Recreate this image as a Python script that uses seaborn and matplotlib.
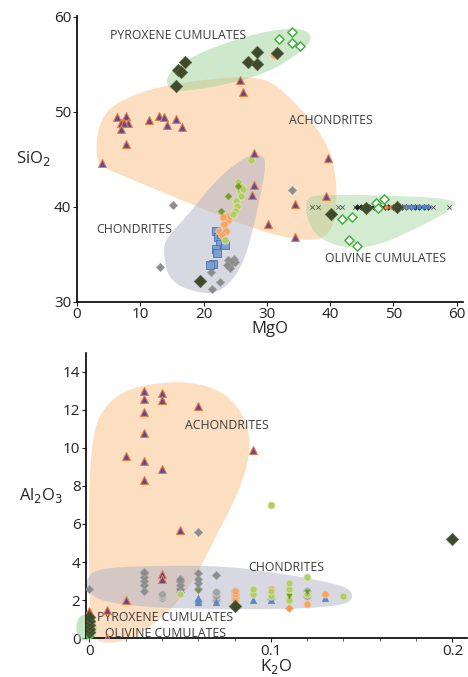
import numpy as np
import pandas as pd
import matplotlib
matplotlib.use('Agg')
import matplotlib.pyplot as plt
import seaborn as sns

# ---- top panel: MgO vs SiO2 ----
ach_mgo = [6.4, 7.7, 6.9, 8.0, 7.4, 6.9, 7.7, 11.3, 12.9, 13.8, 14.2, 15.6, 16.6, 4.0,
           25.8, 26.3, 28.0, 28.0, 27.6, 30.2, 34.5, 34.4, 39.7, 39.4]
ach_sio2 = [49.5, 49.6, 48.8, 48.8, 48.8, 48.2, 46.6, 49.1, 49.6, 49.5, 48.6, 49.3, 48.4, 44.6,
            53.4, 52.1, 45.7, 42.3, 41.3, 38.2, 40.3, 36.8, 45.1, 41.1]

dark_mgo = [15.7, 15.9, 16.4, 17.0, 27.0, 28.4, 28.4, 31.6, 40.1, 45.6, 19.4, 50.5]
dark_sio2 = [52.7, 54.4, 54.2, 55.3, 55.2, 56.3, 55.0, 56.2, 39.3, 39.9, 32.2, 40.0]

opn_mgo = [31.9, 34.0, 34.0, 35.3, 41.8, 43.5, 47.2, 48.5, 47.5, 42.9, 44.3]
opn_sio2 = [57.7, 58.4, 57.2, 56.9, 38.7, 38.9, 40.4, 40.8, 39.9, 36.5, 35.9]

gray_mgo = [15.1, 34.0, 13.1, 21.2, 22.6, 21.3, 23.9, 24.3, 24.8, 25.0, 24.2, 23.7, 24.5]
gray_sio2 = [40.2, 41.8, 33.7, 33.1, 32.1, 31.4, 34.4, 34.0, 34.5, 34.2, 33.6, 33.9, 34.3]

lime_mgo = [27.5, 25.4, 26.0, 25.7, 25.9, 25.1, 25.3, 24.9, 24.6, 23.4, 26.2]
lime_sio2 = [44.9, 42.6, 42.1, 41.7, 41.2, 40.6, 40.1, 39.6, 39.3, 36.5, 41.9]

olive_mgo = [23.9, 22.8, 25.5]
olive_sio2 = [41.1, 39.6, 42.2]

orng_mgo = [24.4, 23.8, 23.3, 22.5, 23.6, 24.0, 22.9, 23.1, 31.1, 31.6]
orng_sio2 = [39.3, 38.6, 38.2, 37.5, 37.5, 39.0, 37.0, 38.9, 56.0, 56.1]

blue_mgo = [22.0, 22.3, 22.6, 21.9, 23.4, 21.5, 21.0, 22.8, 22.1]
blue_sio2 = [37.5, 36.8, 36.1, 35.6, 36.0, 34.0, 33.9, 37.2, 35.2]

# olivine cumulate run along SiO2 ~ 40
run_mgo = [44.2, 44.8, 45.4, 46.2, 47.0, 47.8, 48.6, 49.2, 49.9, 50.6, 51.3, 52.0, 52.7,
           53.4, 54.1, 54.8, 55.4]
run_sio2 = [40.0, 40.0, 40.0, 40.0, 40.0, 40.0, 40.0, 40.0, 40.0, 40.0, 40.0, 40.0, 40.0,
            40.0, 40.0, 40.0, 40.0]
run_orng_mgo = [48.8, 49.6, 50.4, 51.2, 52.0, 52.8]
run_orng_sio2 = [40.0, 40.0, 40.0, 40.0, 40.0, 40.0]
run_blue_mgo = [51.6, 52.4, 53.2, 54.0, 54.8, 55.5]
run_blue_sio2 = [40.0, 40.0, 40.0, 40.0, 40.0, 40.0]

x_mgo = [37.2, 38.1, 41.3, 41.8, 44.0, 44.5, 45.0, 46.5, 47.5, 49.0, 50.0, 51.0, 52.5, 53.5, 56.3, 58.8]
x_sio2 = [40.0, 40.0, 40.0, 40.0, 40.0, 40.0, 40.0, 40.0, 40.0, 40.0, 40.0, 40.0, 40.0, 40.0, 40.0, 40.0]

# field outlines (MgO, SiO2)
top_ach = [(3.0, 44.6), (3.2, 48.4), (5.5, 50.8), (12.2, 52.6), (21.2, 53.5), (27.1, 53.7), (30.6, 53.3),
           (34.8, 50.8), (39.2, 47.2), (41.0, 43.5), (41.0, 39.0), (39.6, 36.9), (36.6, 36.4),
           (31.3, 37.0), (23.9, 38.7), (13.3, 41.6), (5.0, 43.9)]
top_chon = [(13.6, 35.3), (14.5, 32.2), (19.1, 30.9), (22.8, 31.0), (26.2, 33.7), (28.3, 38.9),
            (29.9, 44.3), (29.4, 45.5), (27.1, 45.5), (22.6, 43.3), (17.3, 39.0), (14.1, 36.7)]
top_pyx = [(14.0, 52.9), (15.8, 51.9), (29.4, 53.7), (36.9, 57.0), (36.9, 58.4), (34.0, 58.9),
           (27.1, 58.1), (18.5, 56.0), (14.6, 54.2)]
top_oliv = [(36.2, 40.8), (37.7, 41.3), (50.5, 41.2), (59.6, 40.8), (59.9, 40.0), (55.9, 38.5),
            (47.8, 35.9), (42.5, 35.6), (38.0, 36.7), (36.2, 38.9)]

# ---- bottom panel: K2O vs Al2O3 ----
b_ach_k = [0.03, 0.03, 0.03, 0.03, 0.03, 0.03, 0.02, 0.04, 0.04, 0.04, 0.06, 0.09, 0.05,
           0.04, 0.04, 0.02, 0.01, 0.0, 0.01]
b_ach_al = [13.0, 12.6, 11.9, 10.8, 9.3, 8.3, 9.6, 12.9, 12.5, 8.9, 12.2, 9.9, 5.7,
            3.35, 3.1, 2.0, 1.5, 1.4, 0.0]

b_gray_k = [0.0, 0.03, 0.03, 0.03, 0.03, 0.03, 0.03, 0.05, 0.05, 0.05, 0.05, 0.05,
            0.06, 0.06, 0.06, 0.06, 0.06, 0.07]
b_gray_al = [2.6, 2.5, 2.8, 3.0, 3.2, 3.4, 3.5, 2.4, 2.6, 2.8, 3.0, 3.1,
             2.6, 2.9, 3.1, 3.4, 5.6, 3.3]

b_round_k = [0.04, 0.04, 0.04, 0.07, 0.07, 0.07, 0.08, 0.08, 0.08, 0.12, 0.12, 0.10, 0.06]
b_round_al = [2.1, 2.2, 2.3, 2.0, 2.2, 2.4, 2.1, 2.3, 2.5, 2.2, 2.5, 2.1, 1.9]

b_lime_k = [0.10, 0.12, 0.09, 0.09, 0.10, 0.10, 0.11, 0.11, 0.11, 0.12, 0.14, 0.05, 0.11]
b_lime_al = [7.0, 3.2, 2.3, 2.6, 2.2, 2.5, 2.3, 2.6, 2.9, 2.3, 2.2, 2.3, 2.0]

b_orng_k = [0.08, 0.08, 0.08, 0.10, 0.13, 0.14, 0.12, 0.0]
b_orng_al = [2.0, 2.3, 2.5, 2.6, 2.3, 2.2, 1.8, 0.3]

b_blue_k = [0.06, 0.06, 0.07, 0.09, 0.13, 0.10]
b_blue_al = [1.9, 2.1, 1.9, 2.0, 2.1, 2.0]

b_olive_k = [0.06, 0.12, 0.11]
b_olive_al = [2.5, 2.4, 2.2]

b_dark_k = [0.08, 0.2, 0.0, 0.0, 0.0, 0.0, 0.0]
b_dark_al = [1.7, 5.2, 0.3, 0.5, 0.7, 0.9, 1.1]

b_opn_k = [0.0, 0.0, 0.0]
b_opn_al = [0.1, 0.2, 0.4]

b_ach = [(0.0004, 0.26), (-0.0005, 7.0), (0.0015, 10.6), (0.0075, 12.1), (0.02, 13.1), (0.0426, 13.5),
         (0.061, 13.4), (0.0762, 12.8), (0.0858, 11.6), (0.0892, 10.1), (0.084, 8.0), (0.069, 5.2),
         (0.058, 3.1), (0.047, 1.7), (0.034, 0.6), (0.021, -0.15), (0.006, -0.3)]
b_chon = [(-0.0018, 3.1), (0.004, 3.65), (0.0297, 3.8), (0.0756, 3.8), (0.112, 3.3), (0.141, 2.75),
          (0.146, 2.2), (0.141, 1.72), (0.112, 1.52), (0.066, 1.52), (0.0297, 1.62), (0.0059, 1.95),
          (-0.0008, 2.46)]
b_oliv = [(-0.0015, 1.3), (0.003, 1.1), (0.0045, 0.5), (0.003, -0.05), (-0.0015, -0.15),
          (-0.006, -0.05), (-0.0075, 0.5), (-0.006, 1.1)]

ORANGE = '#fbc48f'
GRAY = '#b0b2c6'
GREEN = '#9fd39a'
LABEL = '#3a3a3a'
FS = 8.8


def smooth(pts, n=4):
    # chaikin corner cutting on a closed outline
    p = np.array(pts, dtype=float)
    for _ in range(n):
        q = np.roll(p, -1, axis=0)
        a = 0.75 * p + 0.25 * q
        b = 0.25 * p + 0.75 * q
        p = np.stack([a, b], axis=1).reshape(-1, 2)
    return p


def field(ax, pts, color, alpha, clip=True):
    s = smooth(pts)
    ax.fill(s[:, 0], s[:, 1], color=color, alpha=alpha, lw=0, zorder=1, clip_on=clip)


def pts(ax, x, y, marker, size, face, edge, lw=0.6, z=3):
    sns.scatterplot(x=x, y=y, ax=ax, marker=marker, s=size, color=face,
                    edgecolor=edge, linewidth=lw, zorder=z, legend=False)


sns.set_style('white')
plt.rcParams['font.family'] = ['Open Sans', 'DejaVu Sans']

fig = plt.figure(figsize=(4.68, 6.77), dpi=100)
ax1 = fig.add_axes([0.1645, 0.554, 0.825, 0.4225])
ax2 = fig.add_axes([0.1838, 0.0576, 0.814, 0.421])

# top panel
field(ax1, top_ach, ORANGE, 0.55)
field(ax1, top_chon, GRAY, 0.5)
field(ax1, top_pyx, GREEN, 0.5)
field(ax1, top_oliv, GREEN, 0.45)

pts(ax1, x_mgo, x_sio2, 'x', 10, '#555555', '#555555', lw=0.6)
pts(ax1, run_mgo, run_sio2, 'D', 9, '#222222', '#222222', lw=0.3)
pts(ax1, run_orng_mgo, run_orng_sio2, 'o', 8, '#e8923e', '#e8923e', lw=0.3)
pts(ax1, run_blue_mgo, run_blue_sio2, 's', 6, '#4f7fc0', '#4f7fc0', lw=0.3)
pts(ax1, gray_mgo, gray_sio2, 'D', 18, '#8c8c8c', '#a0a0a0', lw=0.4)
pts(ax1, blue_mgo, blue_sio2, 's', 30, '#7aa0d2', '#4a72b0', lw=0.6)
pts(ax1, orng_mgo, orng_sio2, 'o', 28, '#f2a566', '#f7c9a0', lw=0.6)
pts(ax1, lime_mgo, lime_sio2, 'o', 28, '#b3cc6a', '#d8e6b0', lw=0.6)
pts(ax1, olive_mgo, olive_sio2, 'D', 12, '#7d9a2c', '#7d9a2c', lw=0.3)
pts(ax1, ach_mgo, ach_sio2, '^', 32, '#5b4a9a', '#ee7a3c', lw=0.8, z=4)
pts(ax1, dark_mgo, dark_sio2, 'D', 40, '#3f4a2c', '#5a6640', lw=0.5, z=4)
pts(ax1, opn_mgo, opn_sio2, 'D', 22, 'white', '#44b043', lw=1.1, z=4)

ax1.text(15.9, 58.0, 'PYROXENE CUMULATES', fontsize=FS, color=LABEL, ha='center', va='center')
ax1.text(40.1, 49.1, 'ACHONDRITES', fontsize=FS, color=LABEL, ha='center', va='center')
ax1.text(9.1, 37.6, 'CHONDRITES', fontsize=FS, color=LABEL, ha='center', va='center')
ax1.text(48.8, 34.6, 'OLIVINE CUMULATES', fontsize=FS, color=LABEL, ha='center', va='center')

ax1.set_xlim(0, 61)
ax1.set_ylim(30, 60.1)
ax1.set_xticks([0, 10, 20, 30, 40, 50, 60])
ax1.set_yticks([30, 40, 50, 60])
ax1.set_xlabel('MgO', fontsize=12, labelpad=-1)
ax1.set_ylabel('SiO$_2$', fontsize=12, rotation=0, labelpad=15, va='center')

# bottom panel
field(ax2, b_ach, ORANGE, 0.55, clip=False)
field(ax2, b_chon, GRAY, 0.5)
field(ax2, b_oliv, GREEN, 0.6, clip=False)

pts(ax2, b_gray_k, b_gray_al, 'D', 18, '#8c8c8c', '#a0a0a0', lw=0.4)
pts(ax2, b_round_k, b_round_al, 'o', 30, '#a3a3a3', '#c8c8c8', lw=0.6)
pts(ax2, b_blue_k, b_blue_al, '^', 22, '#5b87c5', '#5b87c5', lw=0.4)
pts(ax2, b_orng_k, b_orng_al, 'o', 26, '#f2a566', '#f7c9a0', lw=0.6)
pts(ax2, [0.11], [1.6], 'D', 16, '#f29a4a', '#f29a4a', lw=0.3)
pts(ax2, b_lime_k, b_lime_al, 'o', 26, '#b3cc6a', '#d8e6b0', lw=0.6)
pts(ax2, b_olive_k, b_olive_al, 'v', 12, '#6f9a2a', '#6f9a2a', lw=0.3)
pts(ax2, b_ach_k, b_ach_al, '^', 32, '#5b4a9a', '#ee7a3c', lw=0.8, z=4)
pts(ax2, b_opn_k, b_opn_al, 'D', 18, 'white', '#44b043', lw=1.0, z=4)
pts(ax2, b_dark_k, b_dark_al, 'D', 40, '#3f4a2c', '#5a6640', lw=0.5, z=4)

ax2.text(0.0756, 11.2, 'ACHONDRITES', fontsize=FS, color=LABEL, ha='center', va='center')
ax2.text(0.1086, 3.73, 'CHONDRITES', fontsize=FS, color=LABEL, ha='center', va='center')
ax2.text(0.0417, 1.09, 'PYROXENE CUMULATES', fontsize=FS, color=LABEL, ha='center', va='center')
ax2.text(0.0417, 0.26, 'OLIVINE CUMULATES', fontsize=FS, color=LABEL, ha='center', va='center')

ax2.set_xlim(-0.0018, 0.208)
ax2.set_ylim(0, 15)
ax2.set_xticks([0, 0.1, 0.2])
ax2.set_xticklabels(['0', '0.1', '0.2'])
ax2.set_xticks(np.arange(0, 0.21, 0.02), minor=True)
ax2.set_yticks([0, 2, 4, 6, 8, 10, 12, 14])
ax2.set_xlabel('K$_2$O', fontsize=12, labelpad=-1)
ax2.set_ylabel('Al$_2$O$_3$', fontsize=12, rotation=0, labelpad=16, va='center')

for ax in (ax1, ax2):
    sns.despine(ax=ax)
    ax.spines['left'].set_linewidth(1.2)
    ax.spines['bottom'].set_linewidth(1.2)
    ax.spines['left'].set_color('black')
    ax.spines['bottom'].set_color('black')
    ax.tick_params(axis='both', which='major', labelsize=11, length=3, width=0.8,
                   direction='out', left=True, bottom=True, pad=1, colors='#222222')
    ax.tick_params(axis='x', which='minor', length=2, width=0.5, bottom=True)

fig.savefig('out.png', dpi=100)
